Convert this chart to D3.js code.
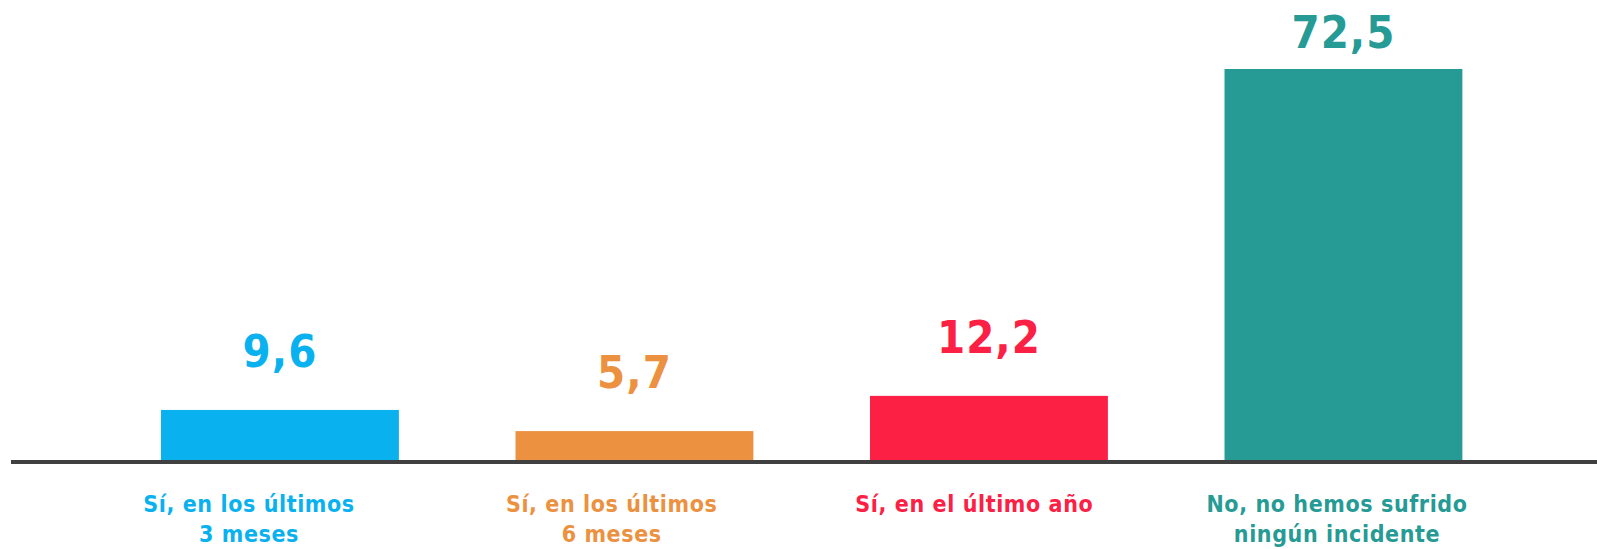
<!DOCTYPE html>
<html>
<head>
<meta charset="utf-8">
<script src="https://cdn.jsdelivr.net/npm/d3@7"></script>
<style>
  body { margin: 0; background: #fff; }
  svg { display: block; }
  text { font-family: 'DejaVu Sans Condensed', 'DejaVu Sans', sans-serif; font-weight: bold; }
</style>
</head>
<body>
<div id="chart"></div>
<script>
const categories = ['Sí, en los últimos 3 meses', 'Sí, en los últimos 6 meses', 'Sí, en el último año', 'No, no hemos sufrido ningún incidente']
const labelLines = [['Sí, en los últimos', '3 meses'], ['Sí, en los últimos', '6 meses'], ['Sí, en el último año'], ['No, no hemos sufrido', 'ningún incidente']]
const values = [9.6, 5.7, 12.2, 72.5]
const colors = ['#0ab1ef', '#ec913f', '#fc2044', '#269b95']

const width = 1597
const height = 549

const svg = d3.select('#chart')
  .append('svg')
  .attr('width', width)
  .attr('height', height)

// bars
const x = d3.scaleBand()
  .domain(categories)
  .range([102.7, 1520.7])
  .paddingInner(0.329)
  .paddingOuter(0.1645)

// the category text sits on a slightly wider grid than the bars
const xLabel = d3.scalePoint()
  .domain(categories)
  .range([249, 1337])

const y = d3.scaleLinear()
  .domain([0, 72.5])
  .range([462, 69])

svg.selectAll('rect.bar')
  .data(values)
  .join('rect')
  .attr('class', 'bar')
  .attr('x', (d, i) => x(categories[i]))
  .attr('y', (d) => y(d))
  .attr('width', x.bandwidth())
  .attr('height', (d) => y(0) - y(d))
  .attr('fill', (d, i) => colors[i])

// baseline
svg.append('line')
  .attr('x1', 11)
  .attr('x2', width)
  .attr('y1', y(0))
  .attr('y2', y(0))
  .style('stroke', '#404040')
  .style('stroke-width', 4)

// value labels (kept inside the top of the chart)
svg.selectAll('text.value')
  .data(values)
  .join('text')
  .attr('class', 'value')
  .attr('x', (d, i) => x(categories[i]) + x.bandwidth() / 2)
  .attr('y', (d) => Math.max(y(d) - 43, 48))
  .attr('text-anchor', 'middle')
  .style('font-size', '45px')
  .style('letter-spacing', '1px')
  .style('fill', (d, i) => colors[i])
  .text((d) => d3.format('.1f')(d).replace('.', ','))

// category labels
const catG = svg.selectAll('text.cat')
  .data(labelLines)
  .join('text')
  .attr('class', 'cat')
  .attr('x', (d, i) => xLabel(categories[i]))
  .attr('y', 512)
  .attr('text-anchor', 'middle')
  .style('font-size', '23px')
  .style('letter-spacing', '0.6px')
  .style('fill', (d, i) => colors[i])

catG.selectAll('tspan')
  .data((d) => d)
  .join('tspan')
  .attr('x', function () { return d3.select(this.parentNode).attr('x') })
  .attr('dy', (d, i) => (i === 0 ? 0 : 30))
  .text((d) => d)
</script>
</body>
</html>
